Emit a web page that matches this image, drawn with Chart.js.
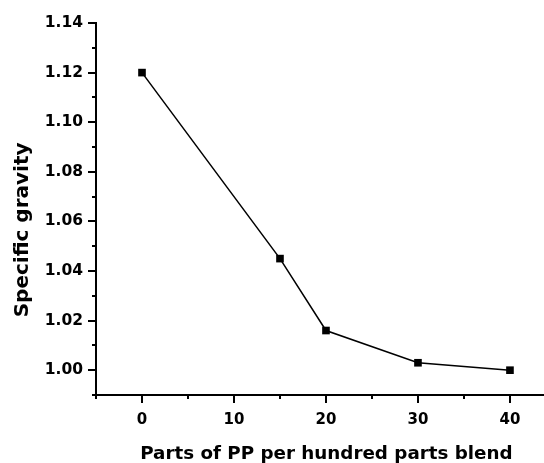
<!DOCTYPE html>
<html>
<head>
<meta charset="utf-8">
<script src="https://cdn.jsdelivr.net/npm/chart.js@4/dist/chart.umd.min.js"></script>
<style>
    html, body { margin: 0; padding: 0; background: #fff; }
    canvas { display: block; }
</style>
</head>
<body>
<canvas id="sg_chart" width="544" height="463"></canvas>
<script>
"use strict";

// values
const pp_parts = [0, 15, 20, 30, 40];
const specific_gravity = [1.120, 1.045, 1.016, 1.003, 1.000];

const x_major = [0, 10, 20, 30, 40];
const x_minor = [-5, 5, 15, 25, 35];
const y_major = [1.00, 1.02, 1.04, 1.06, 1.08, 1.10, 1.12, 1.14];
const y_minor = [0.99, 1.01, 1.03, 1.05, 1.07, 1.09, 1.11, 1.13];

const font_family = "'DejaVu Sans', sans-serif";

// short ticks between the labelled ones
const minorTicks = {
    id: 'minorTicks',
    afterDraw: function (chart) {
        let ctx = chart.ctx;
        let xs = chart.scales.x, ys = chart.scales.y;
        ctx.save();
        ctx.strokeStyle = '#000';
        ctx.lineWidth = 2;
        ctx.beginPath();
        x_minor.forEach(v => {
            let px = Math.round(xs.getPixelForValue(v));
            ctx.moveTo(px, ys.bottom);
            ctx.lineTo(px, ys.bottom + 4);
        });
        y_minor.forEach(v => {
            let py = Math.round(ys.getPixelForValue(v));
            ctx.moveTo(xs.left, py);
            ctx.lineTo(xs.left - 4, py);
        });
        ctx.stroke();
        ctx.restore();
    }
};

new Chart(document.getElementById('sg_chart'), {
    type: 'line',
    data: {
        datasets: [{
            data: pp_parts.map((x, i) => ({ x: x, y: specific_gravity[i] })),
            borderColor: '#000',
            borderWidth: 1.5,
            backgroundColor: '#000',
            pointStyle: 'rect',
            pointRadius: 5.4,
            pointBorderWidth: 0,
            tension: 0,
            clip: false
        }]
    },
    options: {
        responsive: false,
        animation: false,
        layout: {
            autoPadding: false, // otherwise the markers shrink the plot area
            padding: { top: 23, right: 0, left: 0, bottom: 0 }
        },
        plugins: {
            legend: { display: false },
            tooltip: { enabled: false }
        },
        scales: {
            x: {
                type: 'linear',
                min: -5,
                max: 43.7,
                afterBuildTicks: s => { s.ticks = x_major.map(v => ({ value: v })); },
                afterFit: s => {
                    s.height = 68;
                    s.paddingLeft = 0;
                    s.paddingRight = 0;
                },
                border: { color: '#000', width: 2 },
                grid: { drawOnChartArea: false, color: '#000', lineWidth: 2, tickLength: 8 },
                ticks: {
                    color: '#000',
                    padding: 8,
                    maxRotation: 0,
                    font: { family: font_family, size: 15, weight: 'bold' }
                },
                title: {
                    display: true,
                    text: '  Parts of PP per hundred parts blend',
                    color: '#000',
                    padding: { top: 0, bottom: 0 },
                    font: { family: font_family, size: 18.3, weight: 'bold', lineHeight: 1 }
                }
            },
            y: {
                min: 0.99,
                max: 1.14,
                afterBuildTicks: s => { s.ticks = y_major.map(v => ({ value: v })); },
                afterFit: s => { s.width = 96; },
                border: { color: '#000', width: 2 },
                grid: { drawOnChartArea: false, color: '#000', lineWidth: 2, tickLength: 8 },
                ticks: {
                    color: '#000',
                    padding: 5,
                    callback: v => v.toFixed(2),
                    font: { family: font_family, size: 15.5, weight: 'bold' }
                },
                title: {
                    display: true,
                    text: 'Specific gravity      ',
                    color: '#000',
                    padding: { top: 13, bottom: 0 },
                    font: { family: font_family, size: 20, weight: 'bold', lineHeight: 1 }
                }
            }
        }
    },
    plugins: [minorTicks]
});
</script>
</body>
</html>
